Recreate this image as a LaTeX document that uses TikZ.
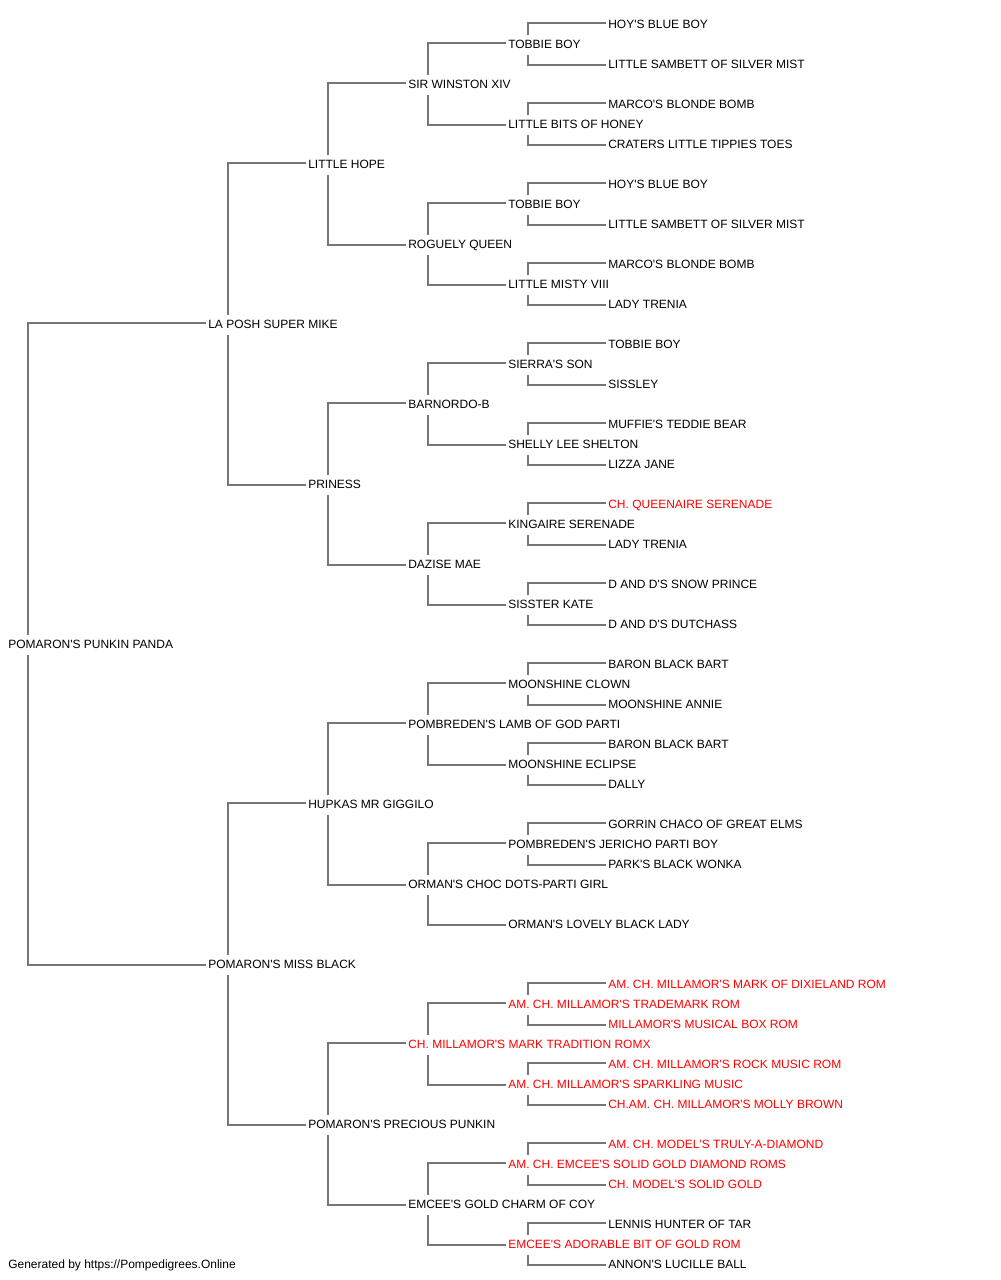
\documentclass[tikz,border=0pt]{standalone}
\usepackage{fontspec}
\setmainfont{Liberation Sans}[Ligatures=TeXOff]
\usetikzlibrary{backgrounds}
\definecolor{linegray}{RGB}{118,118,118}
\definecolor{pedred}{RGB}{255,0,0}
\tikzset{
  lbl/.style={anchor=west, fill=white, inner xsep=1.5pt, inner ysep=3.2pt,
    text height=7pt, text depth=2pt, font=\fontsize{9pt}{10pt}\selectfont},
  rn/.style={text=pedred},
  conn/.style={draw=linegray, line width=1.4pt, line join=miter}
}
\newcommand{\pedlink}[3]{%
  \draw[conn] ([xshift=16.5pt]#1.west) |- ([yshift=1.3pt]#2.west);
  \draw[conn] ([xshift=16.5pt]#1.west) |- (#3.west);}
\begin{document}
\begin{tikzpicture}[x=0.75pt,y=-0.75pt]
\useasboundingbox (0,0) rectangle (1000,1280);
\begin{scope}[shift={(0,1)}]
% generation 1
\node[lbl] (r) at (6,644) {POMARON'S PUNKIN PANDA};
% generation 2
\node[lbl] (s) at (206,324) {LA POSH SUPER MIKE};
\node[lbl] (d) at (206,964) {POMARON'S MISS BLACK};
% generation 3
\node[lbl] (ss) at (306,164) {LITTLE HOPE};
\node[lbl] (sd) at (306,484) {PRINESS};
\node[lbl] (ds) at (306,804) {HUPKAS MR GIGGILO};
\node[lbl] (dd) at (306,1124) {POMARON'S PRECIOUS PUNKIN};
% generation 4
\node[lbl] (g4-0) at (406,84) {SIR WINSTON XIV};
\node[lbl] (g4-1) at (406,244) {ROGUELY QUEEN};
\node[lbl] (g4-2) at (406,404) {BARNORDO-B};
\node[lbl] (g4-3) at (406,564) {DAZISE MAE};
\node[lbl] (g4-4) at (406,724) {POMBREDEN'S LAMB OF GOD PARTI};
\node[lbl] (g4-5) at (406,884) {ORMAN'S CHOC DOTS-PARTI GIRL};
\node[lbl,rn] (g4-6) at (406,1044) {CH. MILLAMOR'S MARK TRADITION ROMX};
\node[lbl] (g4-7) at (406,1204) {EMCEE'S GOLD CHARM OF COY};
% generation 5
\node[lbl] (g5-0) at (506,44) {TOBBIE BOY};
\node[lbl] (g5-1) at (506,124) {LITTLE BITS OF HONEY};
\node[lbl] (g5-2) at (506,204) {TOBBIE BOY};
\node[lbl] (g5-3) at (506,284) {LITTLE MISTY VIII};
\node[lbl] (g5-4) at (506,364) {SIERRA'S SON};
\node[lbl] (g5-5) at (506,444) {SHELLY LEE SHELTON};
\node[lbl] (g5-6) at (506,524) {KINGAIRE SERENADE};
\node[lbl] (g5-7) at (506,604) {SISSTER KATE};
\node[lbl] (g5-8) at (506,684) {MOONSHINE CLOWN};
\node[lbl] (g5-9) at (506,764) {MOONSHINE ECLIPSE};
\node[lbl] (g5-10) at (506,844) {POMBREDEN'S JERICHO PARTI BOY};
\node[lbl] (g5-11) at (506,924) {ORMAN'S LOVELY BLACK LADY};
\node[lbl,rn] (g5-12) at (506,1004) {AM. CH. MILLAMOR'S TRADEMARK ROM};
\node[lbl,rn] (g5-13) at (506,1084) {AM. CH. MILLAMOR'S SPARKLING MUSIC};
\node[lbl,rn] (g5-14) at (506,1164) {AM. CH. EMCEE'S SOLID GOLD DIAMOND ROMS};
\node[lbl,rn] (g5-15) at (506,1244) {EMCEE'S ADORABLE BIT OF GOLD ROM};
% generation 6
\node[lbl] (g6-0) at (606,24) {HOY'S BLUE BOY};
\node[lbl] (g6-1) at (606,64) {LITTLE SAMBETT OF SILVER MIST};
\node[lbl] (g6-2) at (606,104) {MARCO'S BLONDE BOMB};
\node[lbl] (g6-3) at (606,144) {CRATERS LITTLE TIPPIES TOES};
\node[lbl] (g6-4) at (606,184) {HOY'S BLUE BOY};
\node[lbl] (g6-5) at (606,224) {LITTLE SAMBETT OF SILVER MIST};
\node[lbl] (g6-6) at (606,264) {MARCO'S BLONDE BOMB};
\node[lbl] (g6-7) at (606,304) {LADY TRENIA};
\node[lbl] (g6-8) at (606,344) {TOBBIE BOY};
\node[lbl] (g6-9) at (606,384) {SISSLEY};
\node[lbl] (g6-10) at (606,424) {MUFFIE'S TEDDIE BEAR};
\node[lbl] (g6-11) at (606,464) {LIZZA JANE};
\node[lbl,rn] (g6-12) at (606,504) {CH. QUEENAIRE SERENADE};
\node[lbl] (g6-13) at (606,544) {LADY TRENIA};
\node[lbl] (g6-14) at (606,584) {D AND D'S SNOW PRINCE};
\node[lbl] (g6-15) at (606,624) {D AND D'S DUTCHASS};
\node[lbl] (g6-16) at (606,664) {BARON BLACK BART};
\node[lbl] (g6-17) at (606,704) {MOONSHINE ANNIE};
\node[lbl] (g6-18) at (606,744) {BARON BLACK BART};
\node[lbl] (g6-19) at (606,784) {DALLY};
\node[lbl] (g6-20) at (606,824) {GORRIN CHACO OF GREAT ELMS};
\node[lbl] (g6-21) at (606,864) {PARK'S BLACK WONKA};
\node[lbl,rn] (g6-24) at (606,984) {AM. CH. MILLAMOR'S MARK OF DIXIELAND ROM};
\node[lbl,rn] (g6-25) at (606,1024) {MILLAMOR'S MUSICAL BOX ROM};
\node[lbl,rn] (g6-26) at (606,1064) {AM. CH. MILLAMOR'S ROCK MUSIC ROM};
\node[lbl,rn] (g6-27) at (606,1104) {CH.AM. CH. MILLAMOR'S MOLLY BROWN};
\node[lbl,rn] (g6-28) at (606,1144) {AM. CH. MODEL'S TRULY-A-DIAMOND};
\node[lbl,rn] (g6-29) at (606,1184) {CH. MODEL'S SOLID GOLD};
\node[lbl] (g6-30) at (606,1224) {LENNIS HUNTER OF TAR};
\node[lbl] (g6-31) at (606,1264) {ANNON'S LUCILLE BALL};
% footer
\node[lbl] (foot) at (6,1264) {Generated by https://Pompedigrees.Online};
% connectors
\begin{pgfonlayer}{background}
\pedlink{r}{s}{d}
\pedlink{s}{ss}{sd}
\pedlink{d}{ds}{dd}
\pedlink{ss}{g4-0}{g4-1}
\pedlink{sd}{g4-2}{g4-3}
\pedlink{ds}{g4-4}{g4-5}
\pedlink{dd}{g4-6}{g4-7}
\foreach \i [evaluate=\i as \a using int(2*\i), evaluate=\i as \b using int(2*\i+1)] in {0,...,7}{
  \pedlink{g4-\i}{g5-\a}{g5-\b}
}
\foreach \i [evaluate=\i as \a using int(2*\i), evaluate=\i as \b using int(2*\i+1)] in {0,...,10,12,13,14,15}{
  \pedlink{g5-\i}{g6-\a}{g6-\b}
}
\end{pgfonlayer}
\end{scope}
\end{tikzpicture}
\end{document}
